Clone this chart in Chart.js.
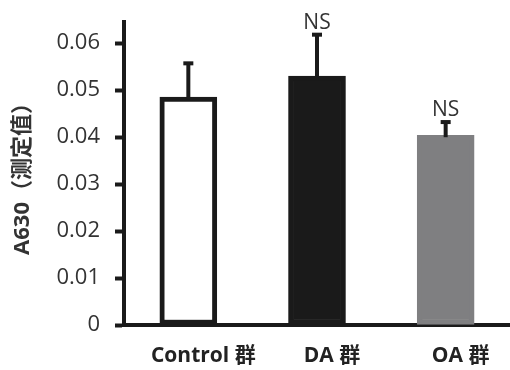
<!DOCTYPE html>
<html>
<head>
<meta charset="utf-8">
<script src="https://cdn.jsdelivr.net/npm/chart.js@4/dist/chart.umd.min.js"></script>
<style>
  html, body { margin: 0; padding: 0; background: #fff; }
  #wrap { width: 510px; height: 370px; }
</style>
</head>
<body>
<div id="wrap"><canvas id="barChart" width="510" height="370"></canvas></div>
<script>
// Data
const kategori = ['Control 群', 'DA 群', 'OA 群'];
const rataRata = [0.0485, 0.0530, 0.0404];
const galat = [0.0072, 0.0088, 0.0028];
const tandaSig = ['', 'NS', 'NS'];
const nilaiTickY = [0, 0.01, 0.02, 0.03, 0.04, 0.05, 0.06];
const warnaBatang = ['#ffffff', '#1a1a1a', '#7f7f81'];
const warnaTepi = ['#1a1a1a', '#1a1a1a', '#7f7f81'];

const FONT = '"Open Sans", "Noto Sans CJK SC", sans-serif';
const HITAM = '#1a1a1a';

// Plugin error bar + label NS
const errorBarPlugin = {
    id: 'errorBars',
    afterDatasetsDraw(chart) {
        const ctx = chart.ctx;
        const meta = chart.getDatasetMeta(0);
        const yScale = chart.scales.y;
        ctx.save();
        meta.data.forEach((bar, i) => {
            const x = bar.x;
            const yBase = yScale.getPixelForValue(rataRata[i]);
            const yTop = yScale.getPixelForValue(rataRata[i] + galat[i]);
            ctx.strokeStyle = HITAM;
            ctx.lineWidth = 4;
            ctx.beginPath();
            ctx.moveTo(x, yBase + 2);
            ctx.lineTo(x, yTop);
            ctx.stroke();
            ctx.fillStyle = HITAM;
            ctx.fillRect(x - 5, yTop - 2, 10, 4);

            if (tandaSig[i]) {
                ctx.fillStyle = '#333';
                ctx.font = '21px ' + FONT;
                ctx.textAlign = 'center';
                ctx.textBaseline = 'alphabetic';
                ctx.fillText(tandaSig[i], x, yTop - 6);
            }
        });
        ctx.restore();
    }
};

new Chart(document.getElementById('barChart').getContext('2d'), {
    type: 'bar',
    data: {
        labels: kategori,
        datasets: [{
            data: rataRata,
            backgroundColor: warnaBatang,
            borderColor: warnaTepi,
            borderWidth: 5,
            borderSkipped: false,
            barThickness: 57
        }]
    },
    options: {
        responsive: false,
        animation: false,
        layout: { padding: { top: 22, left: 10, right: 0, bottom: 0 } },
        plugins: { legend: { display: false }, tooltip: { enabled: false } },
        scales: {
            x: {
                grid: { display: false },
                border: { display: true, color: HITAM, width: 4 },
                ticks: {
                    color: '#222',
                    font: { family: FONT, size: 21, weight: 'bold' },
                    padding: 10,
                    labelOffset: 15,
                    maxRotation: 0
                },
                afterFit(scale) { scale.height = 45; }
            },
            y: {
                min: 0,
                max: 0.0645,
                grid: { drawOnChartArea: false, tickLength: 9, tickWidth: 4, tickColor: HITAM },
                border: { display: true, color: HITAM, width: 4 },
                ticks: {
                    color: '#333',
                    padding: 15,
                    font: { family: FONT, size: 22 },
                    callback: (v) => v === 0 ? '0' : v.toFixed(2)
                },
                afterBuildTicks(scale) {
                    scale.ticks = nilaiTickY.map(v => ({ value: v }));
                },
                title: {
                    display: true,
                    text: 'A630（测定值）',
                    color: '#333',
                    font: { family: FONT, size: 22, weight: 'bold' },
                    padding: 0
                },
                afterFit(scale) {
                    scale.width = 114;
                    scale.paddingTop = 0;
                    scale.paddingBottom = 0;
                }
            }
        }
    },
    plugins: [errorBarPlugin]
});
</script>
</body>
</html>
